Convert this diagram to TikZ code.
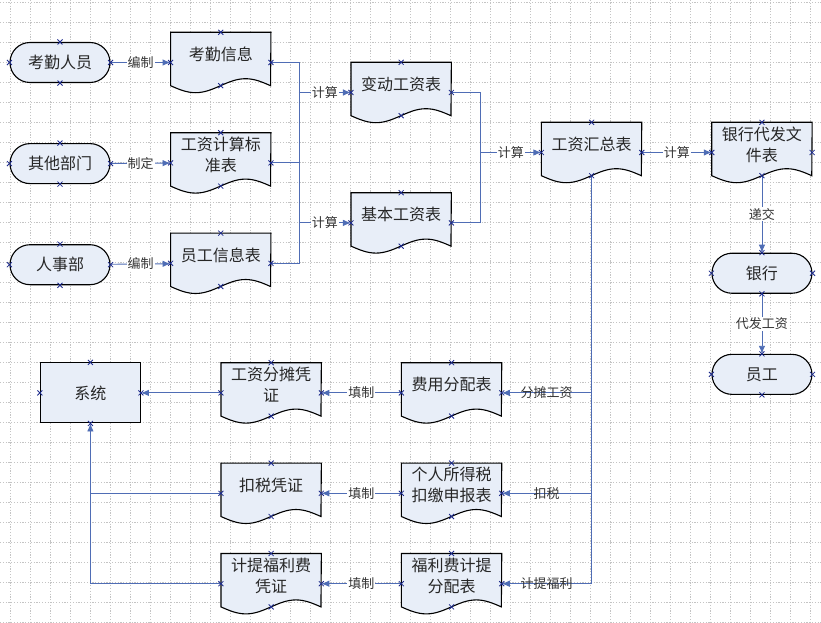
\documentclass[tikz,border=0pt]{standalone}
\usepackage{fontspec}
\setmainfont{Noto Sans CJK SC}
\usetikzlibrary{arrows.meta,positioning,calc,shapes.misc}
\definecolor{flowblue}{HTML}{4F6DB5}
\definecolor{flowfill}{HTML}{E8EEF8}
\definecolor{flownavy}{HTML}{1C2A8C}
\definecolor{gridgray}{HTML}{C4C4C4}
\pgfdeclarelayer{gridlayer}
\pgfdeclarelayer{shapelayer}
\pgfsetlayers{gridlayer,shapelayer,main}

\begin{document}
\begin{tikzpicture}[
    x=1pt,y=-1pt,
    font=\fontsize{16}{21}\selectfont,
    term/.style={rounded rectangle,draw=black,fill=flowfill,line width=1.1pt,minimum width=100pt,minimum height=40pt,inner sep=0pt,text=black!85},
    proc/.style={rectangle,draw=black,fill=flowfill,line width=1.1pt,minimum width=100pt,minimum height=60pt,text=black!85},
    doc/.style={rectangle,minimum width=100pt,minimum height=60pt,inner sep=0pt,label={[doctext]center:#1}},
    doctext/.style={align=center,yshift=8pt,inner sep=0pt,text=black!85},
    docline/.style={draw=black,fill=flowfill,line width=1.1pt},
    gridline/.style={draw=gridgray,line width=0.6pt,dash pattern=on 1.2pt off 1.6pt},
    wire/.style={draw=flowblue,line width=0.9pt},
    arr/.style={-{Latex[length=8pt,width=6.5pt]},draw=flowblue,line width=0.9pt},
    lbl/.style={fill=white,inner sep=1pt,font=\fontsize{13}{15}\selectfont,text=black!80},
    lblc/.style={inner sep=1pt,font=\fontsize{13}{15}\selectfont,text=black!80},
    cpt/.style={draw=flownavy,line width=0.8pt}
  ]
    \useasboundingbox (0,0) rectangle (821,623);
    \begin{pgfonlayer}{gridlayer}
      \fill[white] (0,0) rectangle (821,623);
      \foreach \gx in {10,30,...,810} \draw[gridline] (\gx,0) -- (\gx,623);
      \foreach \gy in {2.5,22.5,...,622.5} \draw[gridline] (0,\gy) -- (821,\gy);
    \end{pgfonlayer}

    \node[term] (kqry) at (60,62.5) {考勤人员};
    \node[term,below=60pt of kqry] (qtbm) {其他部门};
    \node[term,below=60pt of qtbm] (rsb) {人事部};
    \node[doc={考勤信息},right=60pt of kqry] (kqxx) {};
    \node[doc={工资计算标\\准表},below=40pt of kqxx] (gzbz) {};
    \node[doc={员工信息表},below=40pt of gzbz] (ygxx) {};
    \node[doc={变动工资表},right=80pt of kqxx,yshift=-30pt] (bdgz) {};
    \node[doc={基本工资表},below=70pt of bdgz] (jbgz) {};
    \node[doc={工资汇总表},right=90pt of bdgz,yshift=-60pt] (gzhz) {};
    \node[doc={银行代发文\\件表},right=70pt of gzhz] (yhdf) {};
    \node[term,below=70pt of yhdf] (yh) {银行};
    \node[term,below=60pt of yh] (yg) {员工};
    \node[doc={费用分配表},below=180pt of gzhz,xshift=-140pt] (fypb) {};
    \node[doc={个人所得税\\扣缴申报表},below=40pt of fypb] (grsd) {};
    \node[doc={福利费计提\\分配表},below=30pt of grsd] (flfb) {};
    \node[doc={工资分摊凭\\证},left=80pt of fypb] (gzft) {};
    \node[doc={扣税凭证},left=80pt of grsd] (ksp) {};
    \node[doc={计提福利费\\凭证},left=80pt of flfb] (jtfl) {};
    \node[proc,left=80pt of gzft] (xt) {系统};

    \begin{pgfonlayer}{shapelayer}
      \foreach \n in {kqxx,gzbz,ygxx,bdgz,jbgz,gzhz,yhdf,fypb,grsd,flfb,gzft,ksp,jtfl}
        \draw[docline] (\n.north west) -- ([yshift=7pt]\n.south west) sin ++(25,7) cos ++(25,-7) sin ++(25,-7) cos ++(25,7) -- (\n.north east) -- cycle;
    \end{pgfonlayer}

    \coordinate (j1) at ($(kqxx.east)+(28,0)$);
    \coordinate (j2) at ($(bdgz.east)+(29,0)$);
    \draw[arr] (kqry) -- node[lbl]{编制} (kqxx);
    \draw[arr] (qtbm) -- node[lbl]{制定} (gzbz);
    \draw[arr] (rsb) -- node[lbl]{编制} (ygxx);
    \draw[wire] (kqxx.east) -- (j1) |- (ygxx.east);
    \draw[wire] (gzbz.east) -- (gzbz.east -| j1);
    \draw[arr] (bdgz.west -| j1) -- node[lbl]{计算} (bdgz.west);
    \draw[arr] (jbgz.west -| j1) -- node[lbl]{计算} (jbgz.west);
    \draw[wire] (bdgz.east) -- (j2) |- (jbgz.east);
    \draw[arr] (gzhz.west -| j2) -- node[lbl]{计算} (gzhz.west);
    \draw[arr] (gzhz.east) -- node[lbl]{计算} (yhdf.west);
    \draw[arr] ([yshift=7pt]yhdf.south) -- node[lbl]{递交} (yh.north);
    \draw[arr] (yh.south) -- node[lbl]{代发工资} (yg.north);
    \draw[wire] ([yshift=7pt]gzhz.south) -- (gzhz.south |- flfb.east);
    \draw[arr] (fypb.east -| gzhz.south) -- node[lblc]{分摊工资} (fypb.east);
    \draw[arr] (grsd.east -| gzhz.south) -- node[lblc]{扣税} (grsd.east);
    \draw[arr] (flfb.east -| gzhz.south) -- node[lblc]{计提福利} (flfb.east);
    \draw[arr] (fypb.west) -- node[lbl]{填制} (gzft.east);
    \draw[arr] (grsd.west) -- node[lbl]{填制} (ksp.east);
    \draw[arr] (flfb.west) -- node[lbl]{填制} (jtfl.east);
    \draw[arr] (gzft.west) -- (xt.east);
    \draw[wire] (ksp.west) -- (ksp.west -| xt.south);
    \draw[arr] (jtfl.west) -| (xt.south);

    \foreach \n in {kqry,qtbm,rsb,yh,yg,xt}
      \foreach \a in {north,south,east,west}
        \draw[cpt] (\n.\a) +(-2.5,-2.5) -- +(2.5,2.5) +(-2.5,2.5) -- +(2.5,-2.5);
    \foreach \n in {kqxx,gzbz,ygxx,bdgz,jbgz,gzhz,yhdf,fypb,grsd,flfb,gzft,ksp,jtfl}{
      \foreach \a in {north,east,west}
        \draw[cpt] (\n.\a) +(-2.5,-2.5) -- +(2.5,2.5) +(-2.5,2.5) -- +(2.5,-2.5);
      \draw[cpt] ([yshift=7pt]\n.south) +(-2.5,-2.5) -- +(2.5,2.5) +(-2.5,2.5) -- +(2.5,-2.5);
    }
  \end{tikzpicture}
\end{document}
